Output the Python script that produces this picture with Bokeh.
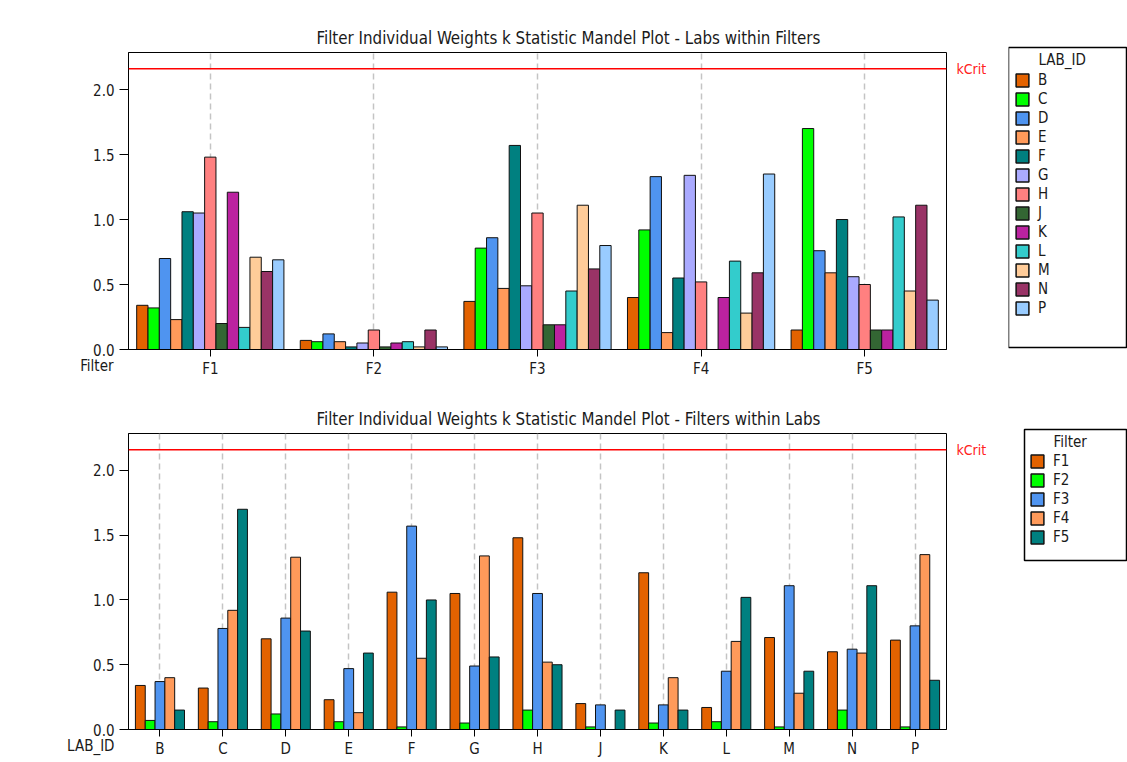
from bokeh.plotting import figure
from bokeh.models import (FactorRange, Range1d, Span, Label, Legend, LegendItem,
                          FixedTicker, NumeralTickFormatter, ColumnDataSource, BoxAnnotation)
from bokeh.transform import dodge
from bokeh.layouts import column, row
from bokeh.embed import file_html
from bokeh.resources import INLINE

filters = ["F1", "F2", "F3", "F4", "F5"]
labs = ["B", "C", "D", "E", "F", "G", "H", "J", "K", "L", "M", "N", "P"]

# k statistic per filter, values for labs B..P
F1 = [0.34, 0.32, 0.70, 0.23, 1.06, 1.05, 1.48, 0.20, 1.21, 0.17, 0.71, 0.60, 0.69]
F2 = [0.07, 0.06, 0.12, 0.06, 0.02, 0.05, 0.15, 0.02, 0.05, 0.06, 0.02, 0.15, 0.02]
F3 = [0.37, 0.78, 0.86, 0.47, 1.57, 0.49, 1.05, 0.19, 0.19, 0.45, 1.11, 0.62, 0.80]
F4 = [0.40, 0.92, 1.33, 0.13, 0.55, 1.34, 0.52, 0.00, 0.40, 0.68, 0.28, 0.59, 1.35]
F5 = [0.15, 1.70, 0.76, 0.59, 1.00, 0.56, 0.50, 0.15, 0.15, 1.02, 0.45, 1.11, 0.38]
kcrit = 2.16
y_ticks = [0.0, 0.5, 1.0, 1.5, 2.0]

lab_colors = ["#E36200", "#00FF00", "#4F94F0", "#FF9A5A", "#008080", "#AAAAFF",
              "#FF8080", "#336633", "#BB22A0", "#33CCCC", "#FFCC99", "#993366", "#99CCFF"]
filter_colors = ["#E36200", "#00FF00", "#4F94F0", "#FF9A5A", "#008080"]

FONT = "DejaVu Sans Condensed, DejaVu Sans"
TXT = "#1a1a1a"
OUTLINE = "#111111"

by_filter = {"F1": F1, "F2": F2, "F3": F3, "F4": F4, "F5": F5}


def style(p):
    p.outline_line_color = "black"
    p.outline_line_width = 1
    p.title.text_font = FONT
    p.title.text_font_size = "16.8px"
    p.title.text_font_style = "normal"
    p.title.text_color = TXT
    p.title.align = "left"
    p.title.offset = 188
    p.xgrid.grid_line_color = "#C4C4C4"
    p.xgrid.grid_line_dash = "6 4"
    p.xgrid.grid_line_width = 1.5
    p.ygrid.grid_line_color = None
    p.yaxis.ticker = FixedTicker(ticks=y_ticks)
    p.yaxis.formatter = NumeralTickFormatter(format="0.0")
    p.yaxis.minor_tick_line_color = None
    for ax in (p.xaxis[0], p.yaxis[0]):
        ax.axis_line_color = "black"
        ax.major_tick_line_color = "black"
        ax.major_tick_in = 0
        ax.major_label_text_font = FONT
        ax.major_label_text_font_size = "15px"
        ax.major_label_text_color = TXT
    p.xaxis.major_tick_out = 7
    p.xaxis.major_label_standoff = 3
    p.yaxis.major_tick_out = 9
    p.yaxis.major_label_standoff = 5
    p.background_fill_color = "white"
    p.border_fill_color = "white"


def make_plot(cats, series_names, series_vals, colors, group_width, title,
              axis_name, name_x, height, top, bottom):
    p = figure(x_range=FactorRange(*cats, range_padding=0),
               y_range=Range1d(0, 2.285),
               width=1008, height=height, frame_width=818,
               frame_height=height - top - bottom,
               min_border_left=128, min_border_right=62,
               min_border_top=top, min_border_bottom=bottom,
               title=title, output_backend="svg", toolbar_location=None)
    style(p)
    data = {"cat": cats}
    for name, vals in zip(series_names, series_vals):
        data[name] = vals
    src = ColumnDataSource(data)
    n = len(series_names)
    bw = group_width / n
    for i, (name, col) in enumerate(zip(series_names, colors)):
        off = (i - (n - 1) / 2) * bw
        p.vbar(x=dodge("cat", off, range=p.x_range), top=name, width=bw,
               source=src, fill_color=col, line_color=OUTLINE, line_width=1)
    p.add_layout(Span(location=kcrit, dimension="width", line_color="#FF0000",
                      line_width=1.5))
    p.add_layout(Label(x=10, y=kcrit, x_units="screen", y_units="data",
                       text="kCrit", text_color="#FF2020", text_font=FONT,
                       text_font_size="14px", text_baseline="middle",
                       text_align="left"), "right")
    p.add_layout(Label(x=name_x, y=-16, x_units="screen", y_units="screen",
                       text=axis_name, text_color=TXT, text_font=FONT,
                       text_font_size="15px", text_baseline="middle",
                       text_align="right"), "left")
    return p


def make_legend(names, colors, title, height, box, title_xy, glyph_x, items_top):
    lp = figure(width=119, height=height, x_range=Range1d(0, 119),
                y_range=Range1d(height, 0), min_border=0,
                output_backend="svg", toolbar_location=None)
    lp.xaxis.visible = False
    lp.yaxis.visible = False
    lp.grid.visible = False
    lp.outline_line_color = None
    lp.background_fill_color = "white"
    lp.border_fill_color = "white"
    left, right, btop, bbottom = box
    lp.add_layout(BoxAnnotation(left=left, right=right, top=btop, bottom=bbottom,
                                fill_color="white", fill_alpha=1,
                                line_color="black", line_alpha=1, line_width=1.5,
                                level="underlay"))
    lp.add_layout(Label(x=title_xy[0], y=title_xy[1], text=title, text_font=FONT,
                        text_font_size="15px", text_color=TXT,
                        text_baseline="middle", text_align="left"))
    items = []
    for name, col in zip(names, colors):
        # hidden proxy renderer, only used to draw the legend swatch
        r = lp.vbar(x=[0], top=[0], width=0.5, fill_color=col, line_color=OUTLINE,
                    line_width=1.5, visible=False)
        items.append(LegendItem(label=name, renderers=[r]))
    n = len(names)
    ih, sp = 18, 1
    leg_h = n * ih + (n - 1) * sp
    leg = Legend(items=items, location=(glyph_x, height - items_top - leg_h))
    leg.label_text_font = FONT
    leg.label_text_font_size = "15px"
    leg.label_text_color = TXT
    leg.glyph_width = 16
    leg.glyph_height = 16
    leg.label_height = ih
    leg.label_standoff = 8
    leg.spacing = sp
    leg.padding = 0
    leg.margin = 0
    leg.border_line_color = None
    leg.background_fill_alpha = 0
    leg.inactive_fill_alpha = 0
    lp.add_layout(leg)
    return lp


top_p = make_plot(filters, labs, [[by_filter[f][j] for f in filters] for j in range(len(labs))],
                  lab_colors, 0.9,
                  "Filter Individual Weights k Statistic Mandel Plot - Labs within Filters",
                  "Filter", 56, 390, 52, 41)
bot_p = make_plot(labs, filters, [F1, F2, F3, F4, F5], filter_colors, 0.78,
                  "Filter Individual Weights k Statistic Mandel Plot - Filters within Labs",
                  "LAB_ID", 71, 372, 43, 33)

top_l = make_legend(labs, lab_colors, "LAB_ID", 390, (0, 118, 47, 347), (30, 59), 6, 71)
bot_l = make_legend(filters, filter_colors, "Filter", 372, (16, 118, 39, 170), (45, 51), 21, 62)

layout = row(column(top_p, bot_p, spacing=0), column(top_l, bot_l, spacing=0), spacing=0)
open("out.html", "w").write(file_html(layout, INLINE))
